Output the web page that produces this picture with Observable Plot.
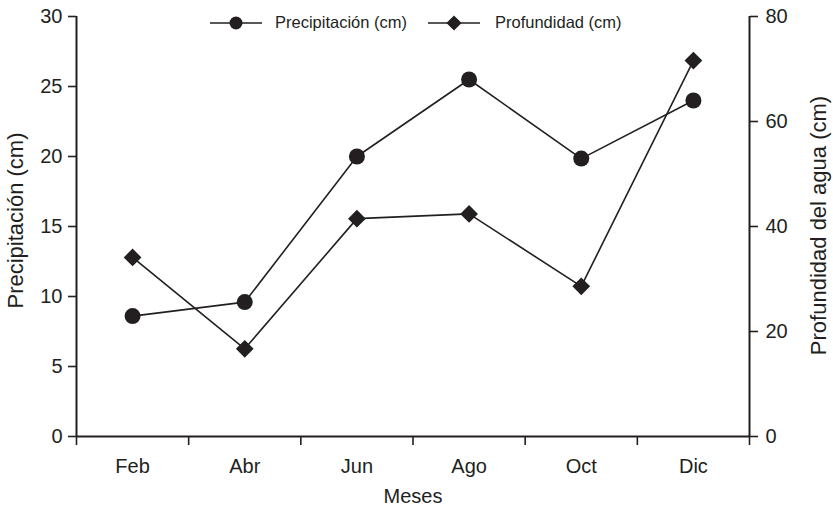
<!DOCTYPE html>
<html><head><meta charset="utf-8">
<script src="https://cdn.jsdelivr.net/npm/d3@7"></script>
<script src="https://cdn.jsdelivr.net/npm/@observablehq/plot@0.6"></script>
<style>
body{margin:0;background:#fff}
#wrap{position:relative;width:833px;height:507px}
#legend{position:absolute;left:0;top:0;pointer-events:none}
</style>
</head><body><div id="wrap"></div>
<script>
const months = ["Feb", "Abr", "Jun", "Ago", "Oct", "Dic"];
const precipitacion = [8.6, 9.6, 20.0, 25.5, 19.85, 24.0];
const profundidad = [34.1, 16.7, 41.5, 42.4, 28.6, 71.6];
const leftTicks = [0, 5, 10, 15, 20, 25, 30];
const rightTicks = [0, 20, 40, 60, 80];
const seriesNames = ["Precipitación (cm)", "Profundidad (cm)"];
const xTitle = "Meses";
const yLeftTitle = "Precipitación (cm)";
const yRightTitle = "Profundidad del agua (cm)";

const ink = "#231f20";
const k = 30 / 80; // right axis → left axis units
const rows = months.map((m, i) => ({i: i + 0.5, m, p: precipitacion[i], d: profundidad[i] * k}));
const font = "'Liberation Sans', Arial, Helvetica, sans-serif";

const chart = Plot.plot({
  width: 833,
  height: 507,
  marginLeft: 76,
  marginRight: 84,
  marginTop: 16,
  marginBottom: 71,
  style: {fontFamily: font, fontSize: "20px", color: ink, background: "white"},
  x: {domain: [0, months.length], label: null},
  y: {domain: [0, 30], label: null},
  marks: [
    Plot.axisY({anchor: "left", ticks: leftTicks, tickSize: 8, tickPadding: 6, fontSize: 20, strokeWidth: 1.6, label: null}),
    Plot.axisY({anchor: "right", ticks: rightTicks.map(v => v * k), tickFormat: d => String(Math.round(d / k)), tickSize: 8, tickPadding: 8, fontSize: 20, strokeWidth: 1.6, label: null}),
    Plot.axisX({ticks: d3.range(months.length + 1), tickFormat: () => "", tickSize: 9, strokeWidth: 1.6, label: null}),
    Plot.axisX({ticks: rows.map(r => r.i), tickFormat: d => months[Math.round(d - 0.5)], tickSize: 0, tickPadding: 22, fontSize: 20, label: null}),
    Plot.ruleX([0, months.length], {y1: 0, y2: 30, stroke: ink, strokeWidth: 2}),
    Plot.ruleY([0], {x1: 0, x2: months.length, stroke: ink, strokeWidth: 2}),
    Plot.line(rows, {x: "i", y: "p", stroke: ink, strokeWidth: 1.6}),
    Plot.line(rows, {x: "i", y: "d", stroke: ink, strokeWidth: 1.6}),
    Plot.dot(rows, {x: "i", y: "p", r: 8, fill: ink, symbol: "circle"}),
    Plot.dot(rows, {x: "i", y: "d", r: 8, fill: ink, symbol: "diamond2"}),
    Plot.text([xTitle], {frameAnchor: "bottom", dy: 66, fontSize: 20, fill: ink, textAnchor: "middle"}),
    Plot.text([yLeftTitle], {frameAnchor: "left", textAnchor: "middle", dx: -61, dy: -6, rotate: -90, fontSize: 22, fill: ink}),
    Plot.text([yRightTitle], {frameAnchor: "right", textAnchor: "middle", dx: 69, dy: -1, rotate: -90, fontSize: 22, fill: ink})
  ]
});
const wrap = document.getElementById("wrap");
wrap.appendChild(chart);

// Legend overlay
const lg = d3.select(wrap).append("svg").attr("id", "legend").attr("width", 833).attr("height", 40)
  .style("font-family", font);
const items = [
  {x0: 210, x1: 262, tx: 275, sym: "circle"},
  {x0: 428, x1: 480, tx: 495, sym: "diamond"}
];
items.forEach((it, j) => {
  const g = lg.append("g");
  const ly = 23;
  g.append("line").attr("x1", it.x0).attr("x2", it.x1).attr("y1", ly).attr("y2", ly).attr("stroke", ink).attr("stroke-width", 1.6);
  const cx = (it.x0 + it.x1) / 2;
  if (it.sym === "circle") {
    g.append("circle").attr("cx", cx).attr("cy", ly).attr("r", 6.5).attr("fill", ink);
  } else {
    g.append("path").attr("d", d3.symbol(d3.symbolDiamond2, Math.pow(7.6 / 0.62625, 2))()).attr("transform", `translate(${cx},${ly})`).attr("fill", ink);
  }
  g.append("text").attr("x", it.tx).attr("y", 27.5).attr("font-size", 16.5).attr("fill", ink).text(seriesNames[j]);
});
</script>
</body></html>
